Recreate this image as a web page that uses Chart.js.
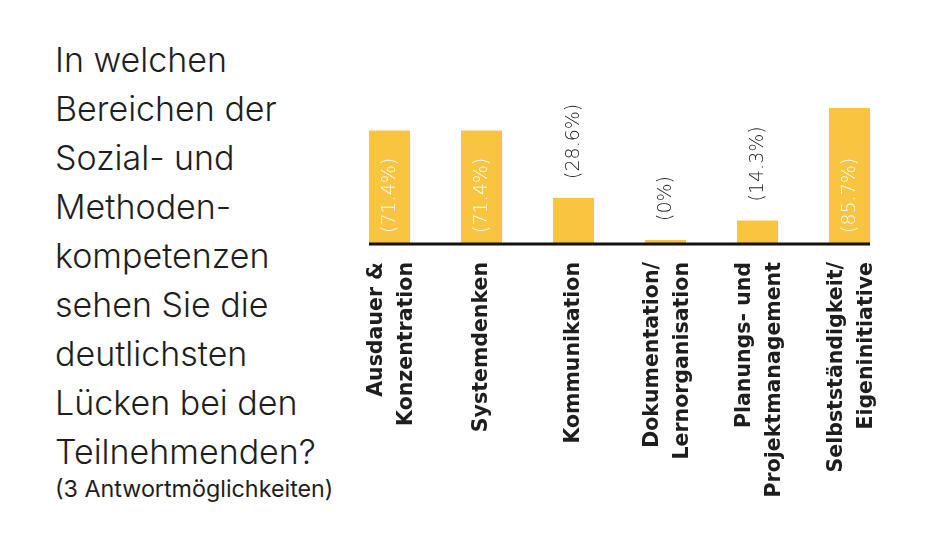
<!DOCTYPE html>
<html lang="de">
<head>
<meta charset="utf-8">
<script src="https://cdn.jsdelivr.net/npm/chart.js@4/dist/chart.umd.min.js"></script>
<style>
  html, body { margin: 0; padding: 0; background: #fff; }
  #wrap { position: relative; width: 936px; height: 544px; overflow: hidden; }
  #title {
    position: absolute; left: 55px; top: 35px;
    font-family: 'Inter', sans-serif; font-weight: 300;
    font-size: 34px; line-height: 49px; color: #1e1e1e;
  }
  #sub {
    position: absolute; left: 55px; top: 475px;
    font-family: 'Inter', sans-serif; font-weight: 400;
    font-size: 23.3px; line-height: 28px; color: #1e1e1e;
  }
  canvas { position: absolute; left: 0; top: 0; }
</style>
</head>
<body>
<div id="wrap">
  <div id="title">In welchen<br>Bereichen der<br>Sozial- und<br>Methoden-<br>kompetenzen<br>sehen Sie die<br>deutlichsten<br>Lücken bei den<br>Teilnehmenden?</div>
  <div id="sub">(3 Antwortmöglichkeiten)</div>
  <canvas id="chart" width="936" height="544"></canvas>
</div>
<script>
const categories = [
  ['Ausdauer &', 'Konzentration'],
  ['Systemdenken'],
  ['Kommunikation'],
  ['Dokumentation/', 'Lernorganisation'],
  ['Planungs- und', 'Projektmanagement'],
  ['Selbstständigkeit/', 'Eigeninitiative'],
];
const values = [71.4, 71.4, 28.6, 0, 14.3, 85.7];
const valueLabels = ['(71.4%)', '(71.4%)', '(28.6%)', '(0%)', '(14.3%)', '(85.7%)'];

const barColor = '#f9c540';
const textColor = '#1e1e1e';
const lineHeight = 30;

// Werte-Beschriftung, gedreht, innen (weiss) oder ueber dem Balken
const valueLabelPlugin = {
  id: 'valueLabels',
  afterDatasetsDraw(chart) {
    const { ctx } = chart;
    const meta = chart.getDatasetMeta(0);
    const base = chart.scales.y.getPixelForValue(0);
    ctx.save();
    ctx.font = "200 19px 'DejaVu Sans', sans-serif";
    ctx.textBaseline = 'middle';
    ctx.textAlign = 'left';
    meta.data.forEach((bar, i) => {
      const inside = values[i] > 50;
      const startY = inside ? base - 10 : bar.y - 19;
      ctx.save();
      ctx.translate(bar.x + 1, startY);
      ctx.rotate(-Math.PI / 2);
      ctx.fillStyle = inside ? '#fff' : textColor;
      ctx.fillText(valueLabels[i], 0, 0);
      ctx.restore();
    });
    ctx.restore();
  },
};

// Grundlinie nur unter den Balken
const baseLinePlugin = {
  id: 'baseLine',
  afterDatasetsDraw(chart) {
    const { ctx } = chart;
    const meta = chart.getDatasetMeta(0);
    const first = meta.data[0];
    const last = meta.data[meta.data.length - 1];
    const y = chart.scales.y.getPixelForValue(0);
    ctx.save();
    ctx.strokeStyle = '#111';
    ctx.lineWidth = 3;
    ctx.beginPath();
    ctx.moveTo(first.x - first.width / 2, y + 1);
    ctx.lineTo(last.x + last.width / 2, y + 1);
    ctx.stroke();
    ctx.restore();
  },
};

// Zweizeilige Achsenbeschriftungen mittig unter den Balken
const centerLabelsPlugin = {
  id: 'centerLabels',
  beforeDraw(chart) {
    chart.scales.x.getLabelItems().forEach((item) => {
      if (Array.isArray(item.label) && item.label.length > 1 && !item.centered) {
        item.options.translation[0] -= lineHeight / 2 - 2;
        item.centered = true;
      }
    });
  },
};

// eslint-disable-next-line no-unused-vars
const chart = new Chart(document.getElementById('chart'), {
  type: 'bar',
  data: {
    labels: categories,
    datasets: [{
      data: values,
      backgroundColor: barColor,
      borderWidth: 0,
      barPercentage: 0.446,
      categoryPercentage: 1,
      minBarLength: 3,
    }],
  },
  options: {
    responsive: false,
    animation: false,
    layout: {
      padding: { left: 343.5, right: 40.5, top: 85.5, bottom: 0 },
    },
    plugins: {
      legend: { display: false },
      tooltip: { enabled: false },
    },
    scales: {
      x: {
        afterFit(scale) {
          scale.height = 301;
        },
        grid: { display: false, drawTicks: false },
        border: { display: false },
        ticks: {
          autoSkip: false,
          minRotation: 90,
          maxRotation: 90,
          padding: 19,
          color: textColor,
          font: { family: "'DejaVu Sans', sans-serif", size: 20.5, weight: '700', lineHeight: lineHeight / 20.5 },
        },
      },
      y: {
        display: false,
        min: 0,
        max: 100,
      },
    },
  },
  plugins: [centerLabelsPlugin, valueLabelPlugin, baseLinePlugin],
});
</script>
</body>
</html>
